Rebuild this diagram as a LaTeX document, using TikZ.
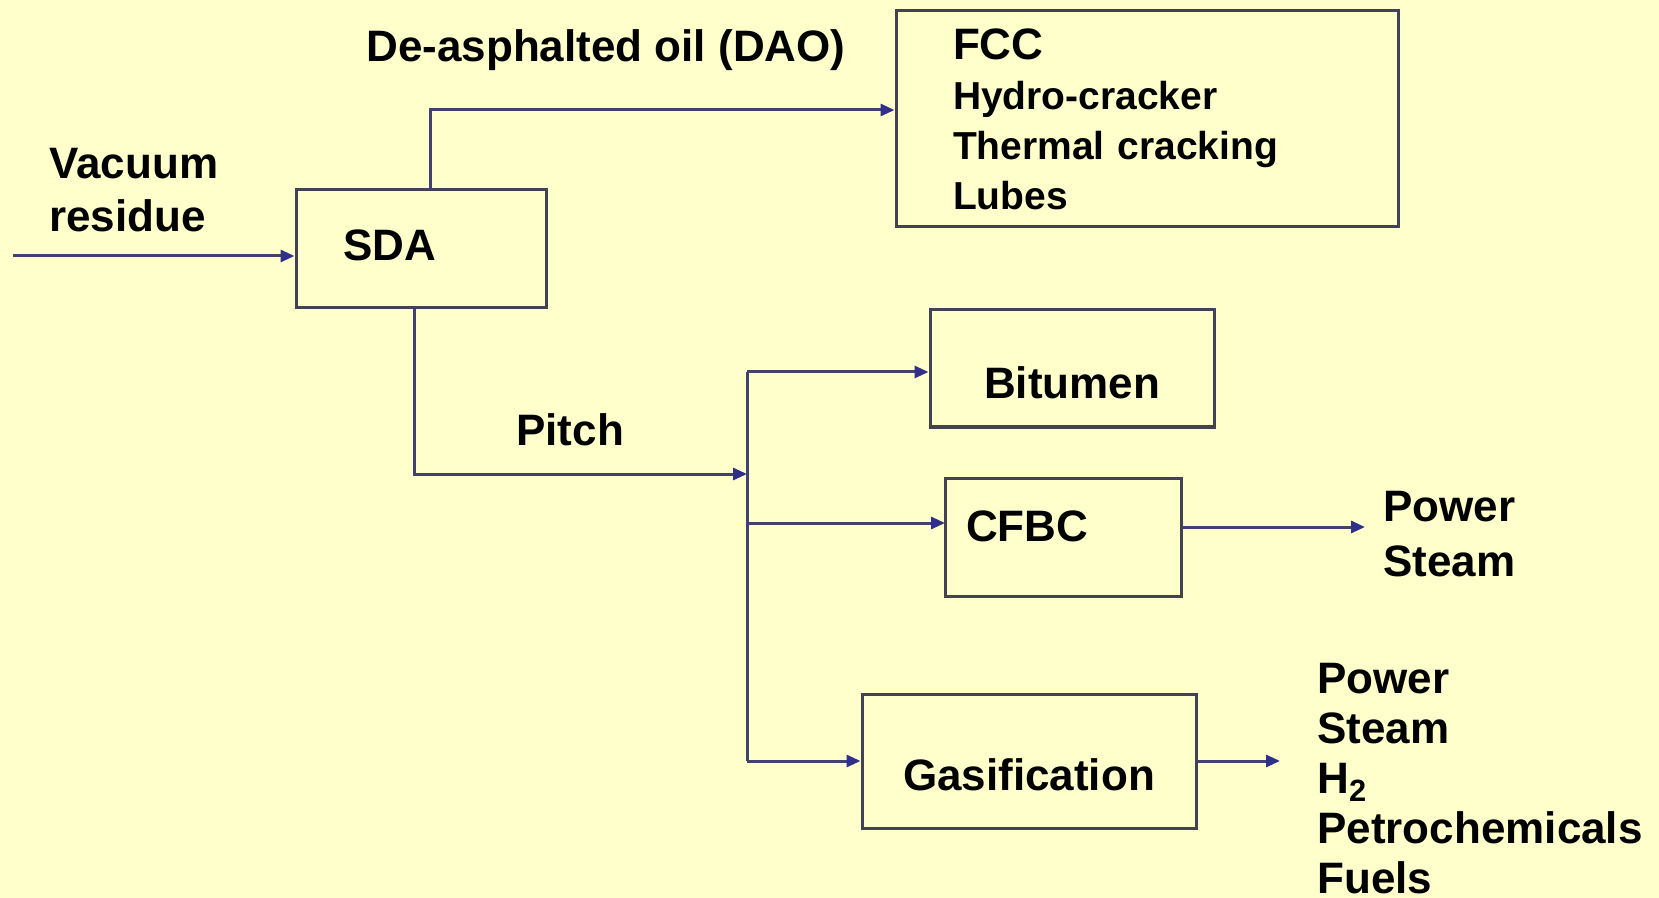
\documentclass[tikz,border=0pt]{standalone}
\usepackage{fontspec}
\setmainfont{Liberation Sans}
\usepackage{tikz}
\usetikzlibrary{positioning,arrows.meta}
\definecolor{paper}{RGB}{255,255,204}
\definecolor{flowcol}{RGB}{66,66,112}
\definecolor{headcol}{RGB}{48,48,140}
\definecolor{boxcol}{RGB}{66,66,84}
\newcommand\bigtxt{\fontsize{22}{26.5}\selectfont\bfseries}
\newcommand\listtxt{\fontsize{19.5}{25}\selectfont\bfseries}

\begin{document}
\begin{tikzpicture}[x=0.5pt, y=-0.5pt,
  unit/.style={rectangle, draw=boxcol, line width=1.5pt, inner sep=0pt,
               font=\bigtxt, align=left},
  lbl/.style={inner sep=0pt, font=\bigtxt, align=left},
  ar/.style={-{Triangle[length=7pt,width=6pt,color=headcol]}, line width=1.5pt, flowcol},
  pipe/.style={line width=1.5pt, flowcol},
]
\fill[paper] (0,0) rectangle (1659,898);
\useasboundingbox (0,0) rectangle (1659,898);

% units
\node[unit, minimum width=125pt, minimum height=59pt, text width=78pt, inner xsep=23.5pt,
      text height=15.75pt, text depth=4.2pt] (sda) at (421,249) {SDA};
\node[unit, minimum width=251pt, minimum height=108pt, text width=194pt, inner xsep=28.5pt,
      font=\listtxt] (fcc) at (1147,119)
    {{\fontsize{22}{25}\selectfont FCC}\\Hydro-cracker\\Thermal cracking\\Lubes};
\node[unit, minimum width=142pt, minimum height=58.5pt, align=center,
      text height=29.6pt, text depth=0pt] (bit) at (1072,368.5) {Bitumen};
\node[unit, minimum width=118pt, minimum height=59pt, text width=97pt, inner xsep=10.5pt,
      text height=15.75pt, text depth=11.6pt] (cfbc) at (1063,537) {CFBC};
\node[unit, minimum width=167pt, minimum height=67pt, align=center,
      text height=29.6pt, text depth=0pt] (gas) at (1029,761) {Gasification};

% stream labels
\node[lbl, anchor=west] (vr) at (49,190) {Vacuum\\residue};
\node[lbl, anchor=base west] (dao) at (366,62) {De-asphalted oil (DAO)};
\node[lbl, anchor=base west] (pitch) at (516,445) {Pitch};
\node[lbl, anchor=west, font=\fontsize{22}{27.5}\selectfont\bfseries]
    (ps) at (1383,534) {Power\\Steam};
\node[lbl, anchor=west, font=\fontsize{22}{25}\selectfont\bfseries]
    (prod) at (1317,779) {Power\\Steam\\H\textsubscript{2}\\Petrochemicals\\Fuels};

% routing points
\coordinate (vin) at (13,256);
\coordinate (up) at (430,110);
\coordinate (down) at (414,474);
\coordinate (pj) at (747,474);
\coordinate (bin) at (930,372);
\coordinate (cin) at (945,523);
\coordinate (cout) at (1365,527);
\coordinate (gout) at (1280,761);

\draw[ar] (vin) -- (vin -| sda.west);
\draw[ar] (sda.north -| up) -- (up) -- (up -| fcc.west);
\draw[ar] (sda.south -| down) -- (down) -- (pj);
\draw[pipe] (pj |- bin) -- (pj |- gas.west);
\draw[ar] (pj |- bin) -- (bin -| bit.west);
\draw[ar] (pj |- cin) -- (cin);
\draw[ar] (pj |- gas.west) -- (gas.west);
\draw[ar] (cout -| cfbc.east) -- (cout);
\draw[ar] (gas.east) -- (gout);
\end{tikzpicture}
\end{document}
